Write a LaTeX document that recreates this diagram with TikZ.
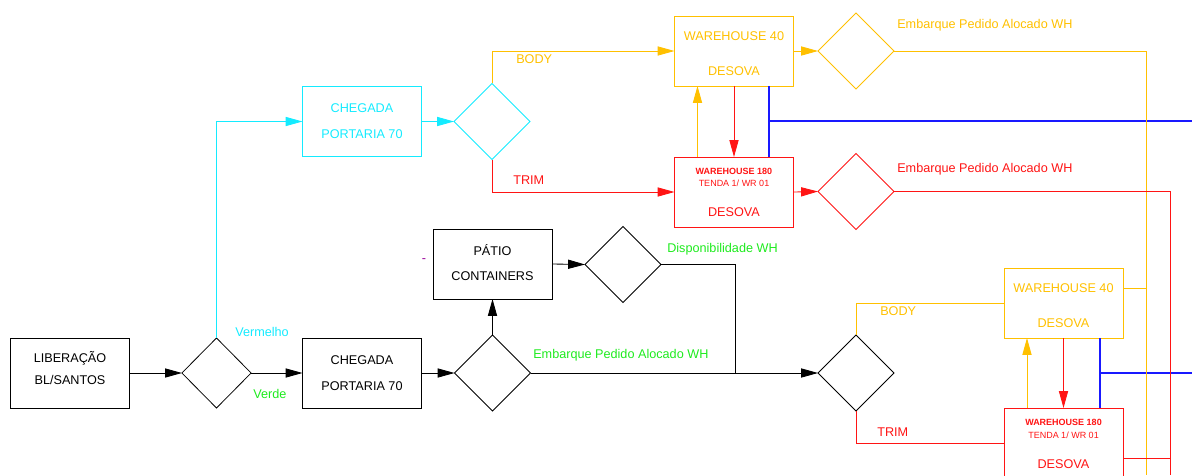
\documentclass[tikz,border=0pt]{standalone}
\usepackage{fontspec}
\setmainfont{Liberation Sans}
\usepackage{tikz}
\usetikzlibrary{arrows.meta,shapes.geometric,positioning}
\definecolor{amarelo}{RGB}{255,192,0}
\definecolor{ciano}{RGB}{20,235,255}
\definecolor{verde}{RGB}{30,235,30}
\definecolor{vermelho}{RGB}{255,20,20}
\definecolor{azulForte}{RGB}{25,25,255}
\definecolor{roxo}{RGB}{153,0,153}
\tikzstyle{caixa}=[rectangle, draw, minimum width=2.975cm,
                   minimum height=1.75cm, inner sep=0pt,
                   outer sep=0pt, line width=0.6pt]
\tikzstyle{losango}=[diamond, draw, aspect=1, minimum width=1.9cm,
                   minimum height=1.9cm, inner sep=0pt,
                   outer sep=0pt, line width=0.55pt]
\tikzstyle{seta}=[-{Triangle[length=12pt,width=6.5pt]}, line width=0.6pt]
\tikzstyle{linha}=[line width=0.6pt]
\tikzstyle{linhaAzul}=[draw=azulForte, line width=0.75pt]
\tikzstyle{texto}=[font=\fontsize{9}{10}\selectfont, inner sep=0pt,
                   text height=6.4pt, text depth=0pt]
\tikzstyle{textop}=[font=\fontsize{6.4}{7}\selectfont, inner sep=0pt,
                   text height=4.6pt, text depth=0pt]
\begin{document}
\begin{tikzpicture}[x=0.025cm, y=-0.025cm]
    \clip (0,0) rectangle (1192,475);

    \node[caixa] (lib) at (70,373) {};
    \node[caixa] (cheg) at (362,373) {};
    \node[caixa] (patio) at (492.5,264) {};
    \node[caixa, ciano] (chegc) at (362,121.5) {};
    \node[caixa, amarelo] (wh40a) at (734,51) {};
    \node[caixa, vermelho] (wh180a) at (734,192) {};
    \node[caixa, amarelo] (wh40b) at (1063.5,303) {};
    \node[caixa, vermelho] (wh180b) at (1063.5,443) {};

    \node[losango, minimum width=1.73cm, minimum height=1.75cm] (d1) at (216.5,373) {};
    \node[losango] (d2) at (492.5,373) {};
    \node[losango] (d3) at (623,264.5) {};
    \node[losango] (d4) at (856,373) {};
    \node[losango, ciano] (dc) at (492,121.5) {};
    \node[losango, amarelo] (dy) at (856,51) {};
    \node[losango, vermelho] (dr) at (856,191.5) {};

    \node[texto] (tlib1) at (70,358) {LIBERAÇÃO};
    \node[texto] (tlib2) at (70,380) {BL/SANTOS};
    \node[texto] (tcheg1) at (362,359.5) {CHEGADA};
    \node[texto] (tcheg2) at (362,385.5) {PORTARIA 70};
    \node[texto] (tpatio1) at (492.5,251) {PÁTIO};
    \node[texto] (tpatio2) at (492.5,276) {CONTAINERS};
    \node[texto, ciano] (tchegc1) at (362,108) {CHEGADA};
    \node[texto, ciano] (tchegc2) at (362,134) {PORTARIA 70};

    \foreach \w/\y in {wh40a/36,wh40b/288}
        \node[texto, amarelo] (t\w) at (\w.center |- 0,\y) {WAREHOUSE 40};
    \foreach \w/\y in {wh40a/71,wh40b/323}
        \node[texto, amarelo] (d\w) at (\w.center |- 0,\y) {DESOVA};
    \foreach \w/\y/\z/\v in {wh180a/171/183/212,wh180b/422/435/464} {
        \node[textop, vermelho] (t\w) at (\w.center |- 0,\y) {\bfseries WAREHOUSE 180};
        \node[textop, vermelho] (s\w) at (\w.center |- 0,\z) {TENDA 1/ WR 01};
        \node[texto, vermelho] (d\w) at (\w.center |- 0,\v) {DESOVA};
    }

    \node[texto, ciano] (lverm) at (262,331.5) {Vermelho};
    \node[texto, verde] (lverde) at (270,393.5) {Verde};
    \node[texto, verde, anchor=west] (lemb) at (533,353.5) {Embarque Pedido Alocado WH};
    \node[texto, verde, anchor=west] (ldisp) at (667,247.5) {Disponibilidade WH};
    \node[texto, amarelo, anchor=west] (lbody1) at (516,59) {BODY};
    \node[texto, vermelho, anchor=west] (ltrim1) at (513,180) {TRIM};
    \node[texto, amarelo, anchor=west] (lemb1) at (897,24) {Embarque Pedido Alocado WH};
    \node[texto, vermelho, anchor=west] (lemb2) at (897,168) {Embarque Pedido Alocado WH};
    \node[texto, amarelo, anchor=west] (lbody2) at (880,311) {BODY};
    \node[texto, vermelho, anchor=west] (ltrim2) at (877,431.5) {TRIM};
    \node[texto, roxo, text height=3pt] (traco) at (424,260) {-};

    \foreach \i/\j in {lib/d1,d1/cheg,cheg/d2,patio/d3,d2/d4}
        \draw [seta] (\i.east) -- (\j.west);
    \draw [seta] (d2.north) -- (patio.south);
    \coordinate (j1) at (735,373);
    \draw [linha] (d3.east) -| (j1);

    \draw [seta, ciano] (d1.north) |- (chegc.west);
    \draw [seta, ciano] (chegc.east) -- (dc.west);
    \draw [seta, amarelo] (dc.north) |- (wh40a.west);
    \draw [seta, vermelho] (dc.south) |- (wh180a.west);
    \draw [seta, amarelo] (wh40a.east) -- (dy.west);
    \draw [seta, vermelho] (wh180a.east) -- (dr.west);

    \draw [linha, amarelo] (d4.north) |- (wh40b.west);
    \draw [linha, vermelho] (d4.south) |- (wh180b.west);

    \foreach \a/\b in {wh40a/wh180a,wh40b/wh180b} {
        \draw [seta, amarelo] ([xshift=0.575cm]\b.north west) -- ([xshift=0.575cm]\a.south west);
        \draw [seta, vermelho] (\a.south) -- (\b.north);
    }
    \coordinate (azA) at (769,121);
    \coordinate (azB) at (1100,373);
    \coordinate (fimA) at (1192,121);
    \coordinate (fimB) at (1192,373);
    \draw [linhaAzul] (azA |- wh40a.south) -- (azA |- wh180a.north);
    \draw [linhaAzul] (azB |- wh40b.south) -- (azB |- wh180b.north);
    \draw [linhaAzul] (azA) -- (fimA);
    \draw [linhaAzul] (azB) -- (fimB);

    \coordinate (amA) at (1146,475);
    \coordinate (vmA) at (1170,475);
    \draw [linha, amarelo] (dy.east) -| (amA);
    \draw [linha, vermelho] (dr.east) -| (vmA);
    \coordinate (ya) at ([yshift=0.375cm]wh40b.east);
    \coordinate (va) at ([yshift=-0.375cm]wh180b.east);
    \draw [linha, amarelo] (ya) -- (ya -| amA);
    \draw [linha, vermelho] (va) -- (va -| vmA);

\end{tikzpicture}
\end{document}
